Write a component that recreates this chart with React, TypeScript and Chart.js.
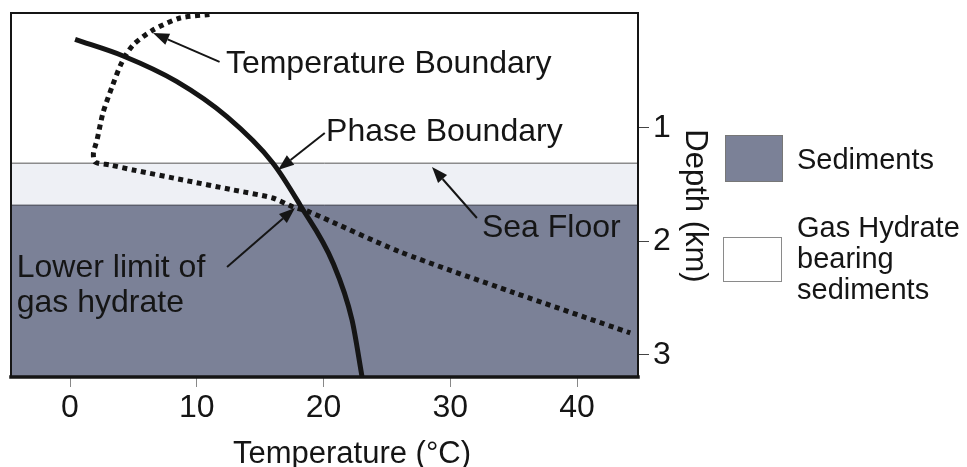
import React, { useEffect, useRef } from "react";
import { Chart, registerables } from "chart.js";

Chart.register(...registerables);

// ---- Data ----
const xTickValues = [0, 10, 20, 30, 40];
const yTickValues = [1, 2, 3];

const X_MIN = -4.655;
const X_MAX = 44.81;
const Y_MIN = -0.013;
const Y_MAX = 3.194;

// Phase boundary (solid)
const phaseTemp = [0.4, 4.2, 8.4, 12.4, 16.0, 18.15, 20.75, 22.25, 23.05];
const phaseDepth = [0.22, 0.366, 0.59, 0.903, 1.308, 1.678, 2.189, 2.692, 3.2];

// Temperature boundary (dotted)
const geoTemp = [11.0, 8.68, 6.55, 4.97, 4.1, 3.31, 2.6, 2.13, 1.85, 1.97, 3.16, 4.97, 8.92, 12.86, 16.0, 17.6, 18.9, 26.0, 35.0, 44.2];
const geoDepth = [0.0, 0.031, 0.137, 0.269, 0.419, 0.639, 0.868, 1.106, 1.22, 1.3, 1.326, 1.37, 1.458, 1.546, 1.617, 1.696, 1.74, 2.09, 2.45, 2.806];

// Layers (depth in km)
const hydrateTopDepth = 1.31;
const seaFloorDepth = 1.68;

// Labels
const xTitle = "Temperature (°C)";
const yTitle = "Depth (km)";
const legendLabels = [["Sediments"], ["Gas Hydrate", "bearing", "sediments"]];

// Annotations (text anchor and arrow in data units)
const annotations = [
  { lines: ["Temperature Boundary"], tx: 12.3, ty: 0.515, from: [11.8, 0.418], to: [6.55, 0.163] },
  { lines: ["Phase Boundary"], tx: 20.2, ty: 1.115, from: [20.1, 1.044], to: [16.41, 1.37] },
  { lines: ["Sea Floor"], tx: 32.5, ty: 1.96, from: [32.1, 1.793], to: [28.56, 1.344] },
  { lines: ["Lower limit of", "gas hydrate"], tx: -4.2, ty: 2.313, from: [12.39, 2.225], to: [17.75, 1.705] },
];

const FONT = "'Liberation Sans', Arial, Helvetica, sans-serif";
const SED_COLOR = "#7b8197";
const HYD_COLOR = "#eef0f5";
const INK = "#151515";

const toXY = (xs: number[], ys: number[]) => xs.map((x, i) => ({ x, y: ys[i] }));

function drawArrow(ctx: CanvasRenderingContext2D, x1: number, y1: number, x2: number, y2: number) {
  const ang = Math.atan2(y2 - y1, x2 - x1);
  const len = 16;
  const hw = 6;
  const bx = x2 - len * Math.cos(ang);
  const by = y2 - len * Math.sin(ang);
  ctx.lineWidth = 2;
  ctx.beginPath();
  ctx.moveTo(x1, y1);
  ctx.lineTo(bx, by);
  ctx.stroke();
  ctx.beginPath();
  ctx.moveTo(x2, y2);
  ctx.lineTo(bx - hw * Math.sin(ang), by + hw * Math.cos(ang));
  ctx.lineTo(bx + hw * Math.sin(ang), by - hw * Math.cos(ang));
  ctx.closePath();
  ctx.fill();
}

const overlayPlugin = {
  id: "overlay",
  afterDatasetsDraw(chart: any) {
    const { ctx, chartArea: a, scales } = chart;
    const xs = scales.x;
    const ys = scales.y;
    ctx.save();
    // frame
    ctx.strokeStyle = INK;
    ctx.lineCap = "square";
    const seg = (x1: number, y1: number, x2: number, y2: number, w: number) => {
      ctx.lineWidth = w;
      ctx.beginPath();
      ctx.moveTo(x1, y1);
      ctx.lineTo(x2, y2);
      ctx.stroke();
    };
    seg(a.left, a.top, a.right, a.top, 2);
    seg(a.left, a.top, a.left, a.bottom, 2);
    seg(a.right, a.top, a.right, a.bottom, 2);
    seg(a.left, a.bottom, a.right, a.bottom, 3.5);

    // annotations
    ctx.fillStyle = INK;
    ctx.strokeStyle = INK;
    ctx.lineCap = "butt";
    ctx.font = `32px ${FONT}`;
    ctx.textAlign = "left";
    ctx.textBaseline = "alphabetic";
    for (const an of annotations) {
      const tx = xs.getPixelForValue(an.tx);
      const ty = ys.getPixelForValue(an.ty);
      an.lines.forEach((ln, i) => ctx.fillText(ln, tx, ty + i * 35));
      drawArrow(
        ctx,
        xs.getPixelForValue(an.from[0]),
        ys.getPixelForValue(an.from[1]),
        xs.getPixelForValue(an.to[0]),
        ys.getPixelForValue(an.to[1])
      );
    }
    ctx.restore();
  },
  afterDraw(chart: any) {
    const { ctx } = chart;
    ctx.save();
    ctx.fillStyle = INK;
    // x title
    ctx.font = `31px ${FONT}`;
    ctx.textAlign = "center";
    ctx.textBaseline = "alphabetic";
    ctx.fillText(xTitle, 352, 463);
    // y title (rotated)
    ctx.save();
    ctx.translate(695, 206);
    ctx.rotate(Math.PI / 2);
    ctx.textAlign = "center";
    ctx.textBaseline = "middle";
    ctx.font = `31px ${FONT}`;
    ctx.fillText(yTitle, 0, 0);
    ctx.restore();

    // legend
    ctx.fillStyle = SED_COLOR;
    ctx.fillRect(725, 135, 58, 47);
    ctx.strokeStyle = "#777";
    ctx.lineWidth = 1;
    ctx.strokeRect(725.5, 135.5, 57, 46);
    ctx.fillStyle = "#ffffff";
    ctx.fillRect(723, 237, 59, 45);
    ctx.strokeStyle = "#8a8a8a";
    ctx.strokeRect(723.5, 237.5, 58, 44);

    ctx.fillStyle = INK;
    ctx.font = `29px ${FONT}`;
    ctx.textAlign = "left";
    ctx.fillText(legendLabels[0][0], 797, 169);
    legendLabels[1].forEach((ln, i) => ctx.fillText(ln, 797, 237 + i * 31));
    ctx.restore();
  },
};

export default function App() {
  const ref = useRef<HTMLCanvasElement | null>(null);

  useEffect(() => {
    if (!ref.current) return;
    const chart = new Chart(ref.current, {
      type: "scatter",
      data: {
        datasets: [
          {
            label: "Phase Boundary",
            data: toXY(phaseTemp, phaseDepth),
            showLine: true,
            borderColor: INK,
            borderWidth: 5,
            borderCapStyle: "butt",
            pointRadius: 0,
            cubicInterpolationMode: "monotone",
            fill: false,
          },
          {
            label: "Temperature Boundary",
            data: toXY(geoTemp, geoDepth),
            showLine: true,
            borderColor: INK,
            borderWidth: 5,
            borderDash: [5, 4.5],
            borderCapStyle: "butt",
            pointRadius: 0,
            tension: 0.25,
            fill: false,
          },
          {
            label: "Sediments",
            data: [
              { x: X_MIN, y: seaFloorDepth },
              { x: X_MAX, y: seaFloorDepth },
            ],
            showLine: true,
            borderColor: "#3a3d48",
            borderWidth: 1,
            backgroundColor: SED_COLOR,
            pointRadius: 0,
            fill: "start",
          },
          {
            label: "Gas Hydrate bearing sediments",
            data: [
              { x: X_MIN, y: hydrateTopDepth },
              { x: X_MAX, y: hydrateTopDepth },
            ],
            showLine: true,
            borderColor: "#555555",
            borderWidth: 1,
            backgroundColor: HYD_COLOR,
            pointRadius: 0,
            fill: "start",
          },
        ],
      },
      options: {
        responsive: false,
        animation: false,
        devicePixelRatio: 1,
        layout: { padding: { left: 11, top: 13, right: 269, bottom: 0 } },
        plugins: {
          legend: { display: false },
          tooltip: { enabled: false },
        },
        scales: {
          x: {
            type: "linear",
            position: "bottom",
            min: X_MIN,
            max: X_MAX,
            afterBuildTicks: (s: any) => {
              s.ticks = xTickValues.map((v) => ({ value: v }));
            },
            afterFit: (s: any) => {
              s.height = 90;
              s.paddingLeft = 0;
              s.paddingRight = 0;
            },
            grid: { display: true, drawOnChartArea: false, drawTicks: true, tickLength: 10, color: "#888", lineWidth: 1 },
            border: { display: false },
            ticks: { font: { family: FONT, size: 32, lineHeight: 1.2 }, color: INK, padding: 2, maxRotation: 0 },
          },
          y: {
            type: "linear",
            position: "right",
            reverse: true,
            min: Y_MIN,
            max: Y_MAX,
            afterBuildTicks: (s: any) => {
              s.ticks = yTickValues.map((v) => ({ value: v }));
            },
            afterFit: (s: any) => {
              s.width = 60;
              s.paddingTop = 0;
              s.paddingBottom = 0;
            },
            grid: { display: true, drawOnChartArea: false, drawTicks: true, tickLength: 11, color: "#444", lineWidth: 1 },
            border: { display: false },
            ticks: { font: { family: FONT, size: 32, lineHeight: 1.2 }, color: INK, padding: 4 },
          },
        },
      },
      plugins: [overlayPlugin],
    } as any);
    return () => chart.destroy();
  }, []);

  return (
    <div style={{ position: "absolute", left: 0, top: 0, width: 967, height: 467, background: "#fff" }}>
      <canvas ref={ref} width={967} height={467} style={{ display: "block" }} />
    </div>
  );
}
